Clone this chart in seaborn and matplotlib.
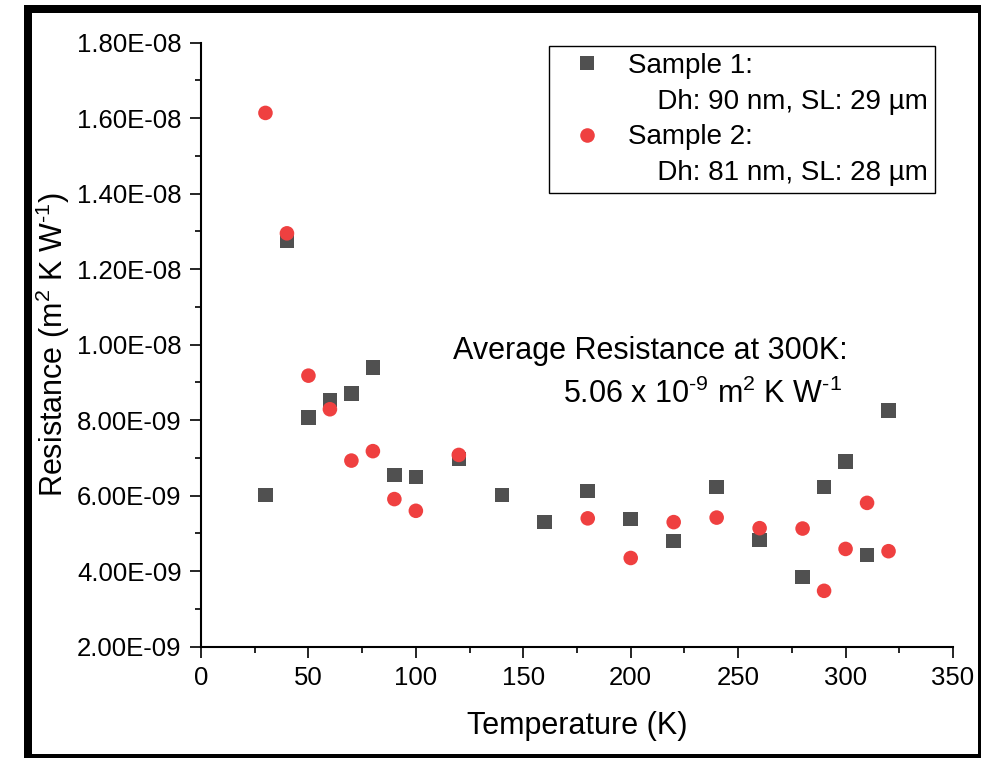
import numpy as np
import pandas as pd
import matplotlib
matplotlib.use("Agg")
import matplotlib.pyplot as plt
import seaborn as sns
from matplotlib.lines import Line2D
from matplotlib.patches import Rectangle
from matplotlib.ticker import FuncFormatter, MultipleLocator

# sample 1 (squares)
temp_1 = [30, 40, 50, 60, 70, 80, 90, 100, 120, 140, 160, 180, 200, 220,
          240, 260, 280, 290, 300, 310, 320]
res_1 = [6.02e-9, 1.275e-8, 8.07e-9, 8.53e-9, 8.70e-9, 9.39e-9, 6.55e-9,
         6.50e-9, 6.97e-9, 6.02e-9, 5.30e-9, 6.12e-9, 5.38e-9, 4.80e-9,
         6.23e-9, 4.83e-9, 3.85e-9, 6.23e-9, 6.90e-9, 4.43e-9, 8.25e-9]

# sample 2 (circles)
temp_2 = [30, 40, 50, 60, 70, 80, 90, 100, 120, 180, 200, 220, 240, 260,
          280, 290, 300, 310, 320]
res_2 = [1.614e-8, 1.295e-8, 9.18e-9, 8.29e-9, 6.93e-9, 7.18e-9, 5.91e-9,
         5.60e-9, 7.08e-9, 5.40e-9, 4.35e-9, 5.30e-9, 5.42e-9, 5.14e-9,
         5.13e-9, 3.48e-9, 4.59e-9, 5.81e-9, 4.53e-9]

labels = ["Sample 1:", "Sample 2:"]
details = ["Dh: 90 nm, SL: 29 µm", "Dh: 81 nm, SL: 28 µm"]
colors = ["#505050", "#EF4040"]

df = pd.DataFrame({
    "T": temp_1 + temp_2,
    "R": res_1 + res_2,
    "sample": [labels[0]] * len(temp_1) + [labels[1]] * len(temp_2),
})

sns.set_style("ticks", {"axes.edgecolor": "black", "xtick.color": "black",
                        "ytick.color": "black", "text.color": "black",
                        "axes.labelcolor": "black"})
plt.rcParams["font.family"] = ["Liberation Sans", "DejaVu Sans"]
plt.rcParams["mathtext.fontset"] = "custom"
plt.rcParams["mathtext.rm"] = "Liberation Sans"
plt.rcParams["mathtext.it"] = "Liberation Sans:italic"
plt.rcParams["mathtext.bf"] = "Liberation Sans:bold"

W, H = 981, 758
fig = plt.figure(figsize=(W / 100, H / 100), dpi=100)
ax = fig.add_axes([201 / W, 1 - 646.7 / H, 752 / W, 604 / H])

sns.scatterplot(data=df, x="T", y="R", hue="sample", style="sample",
                palette=dict(zip(labels, colors)),
                markers=dict(zip(labels, ["s", "o"])),
                s=110, linewidth=0, ax=ax, legend=True, zorder=3)

ax.set_xlim(0, 350)
ax.set_ylim(2e-9, 1.8e-8)
ax.xaxis.set_major_locator(MultipleLocator(50))
ax.xaxis.set_minor_locator(MultipleLocator(25))
ax.yaxis.set_major_locator(MultipleLocator(2e-9))
ax.yaxis.set_minor_locator(MultipleLocator(1e-9))
ax.yaxis.set_major_formatter(FuncFormatter(lambda v, p: f"{v:.2E}"))

for side in ["top", "right"]:
    ax.spines[side].set_visible(False)
for side in ["left", "bottom"]:
    ax.spines[side].set_linewidth(1.5)
ax.tick_params(which="major", direction="out", length=8, width=1.2,
               labelsize=18.5, pad=6, colors="black")
ax.tick_params(which="minor", direction="out", length=4, width=1.2,
               colors="black")

ax.set_xlabel("Temperature (K)", fontsize=22)
ax.set_ylabel(r"Resistance (m$^2$ K W$^{\text{-1}}$)", fontsize=22)
ax.xaxis.set_label_coords(0.5, -0.106)
ax.yaxis.set_label_coords(-0.171, 0.5)

ax.text(117.1, 9.62e-9, "Average Resistance at 300K:", fontsize=22,
        va="baseline", ha="left")
ax.text(168.3, 8.45e-9, r"5.06 x 10$^{\text{-9}}$ m$^2$ K W$^{\text{-1}}$",
        fontsize=22, va="baseline", ha="left")

# legend: marker rows plus indented detail rows
handles, hl = ax.get_legend_handles_labels()
hmap = dict(zip(hl, handles))
blank = Line2D([], [], linestyle="none", marker=None)
indent = "\u2002  "
leg_handles = [hmap[labels[0]], blank, hmap[labels[1]], blank]
leg_labels = [labels[0], indent + details[0], labels[1], indent + details[1]]
leg = ax.legend(leg_handles, leg_labels, loc="upper right",
                bbox_to_anchor=((935 - 201) / 752, (646.7 - 46) / 604),
                borderaxespad=0, fontsize=20, frameon=True, fancybox=False,
                edgecolor="black", framealpha=1, borderpad=0.25,
                labelspacing=0.35, handlelength=2.2, handletextpad=0.4,
                markerscale=1.0)
leg.get_frame().set_linewidth(1.0)

# outer black frame
fig.patches.append(Rectangle((28, 0), 954, 749, transform=None,
                             fill=False, edgecolor="black", linewidth=5.76))

fig.savefig("out.png", dpi=100)
